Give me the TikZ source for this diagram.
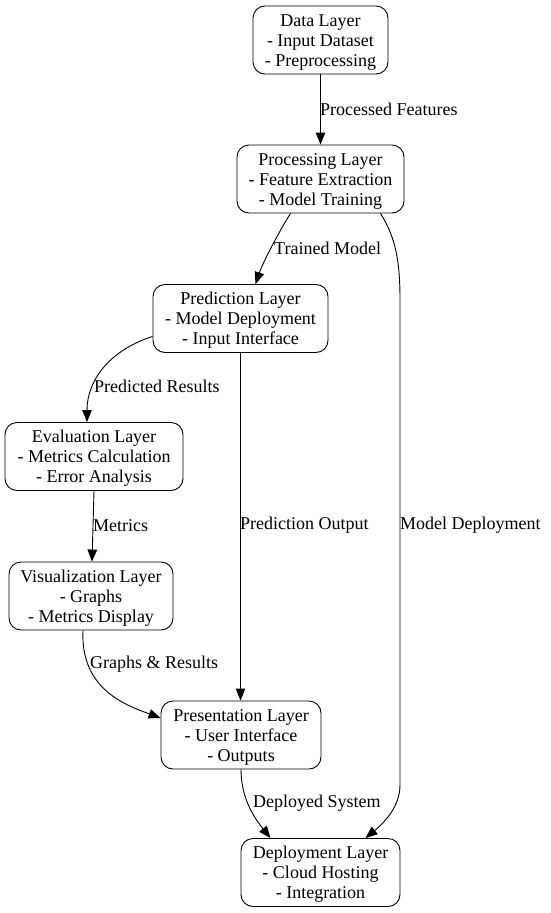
\documentclass[tikz,border=0pt]{standalone}
\usepackage{fontspec}
\setmainfont{Liberation Serif}
\usetikzlibrary{arrows.meta}
\newcommand\laytext[3]{\raisebox{-2pt}[\height][\depth]{\begin{tabular}{@{}c@{}}#1\\#2\\#3\end{tabular}}}
\begin{document}
\begin{tikzpicture}[x=1pt,y=-1pt,
  layer/.style={draw, rounded corners=12pt, line width=0.9pt, inner sep=0pt,
    font=\fontsize{18}{20}\selectfont, minimum height=68pt},
  lbl/.style={anchor=west, inner sep=0pt, font=\fontsize{18}{20}\selectfont},
  conn/.style={line width=0.9pt, -{Triangle[length=12pt,width=9.5pt]}}]
\useasboundingbox (0,0) rectangle (550,913);
\node[layer, minimum width=135pt] (data) at (320.5,40) {\laytext{Data Layer}{- Input Dataset}{- Preprocessing}};
\node[layer, minimum width=167pt] (proc) at (320.5,179) {\laytext{Processing Layer}{- Feature Extraction}{- Model Training}};
\node[layer, minimum width=175pt] (pred) at (240.5,318.5) {\laytext{Prediction Layer}{- Model Deployment}{- Input Interface}};
\node[layer, minimum width=178pt] (eval) at (94,456.5) {\laytext{Evaluation Layer}{- Metrics Calculation}{- Error Analysis}};
\node[layer, minimum width=164pt] (vis) at (91,596) {\laytext{Visualization Layer}{- Graphs}{- Metrics Display}};
\node[layer, minimum width=160pt] (pres) at (241,735) {\laytext{Presentation Layer}{- User Interface}{- Outputs}};
\node[layer, minimum width=159pt] (dep) at (320.5,872.5) {\laytext{Deployment Layer}{- Cloud Hosting}{- Integration}};

\draw[conn] (data.south) -- (proc.north);
\draw[conn] ([xshift=-30pt]proc.south) .. controls (280,230) and (263,262) .. ([xshift=15pt]pred.north);
\draw[conn] ([xshift=60pt]proc.south) .. controls (396,238) and (400,262) .. (400,300) -- (400,785) .. controls (400,806) and (385,822) .. ([xshift=45pt]dep.north);
\draw[conn] ([yshift=-18pt]pred.west) .. controls (110,350) and (87,380) .. ([xshift=-7pt]eval.north);
\draw[conn] (pred.south) -- (pred.south |- pres.north);
\draw[conn] (eval.south) -- ([xshift=1pt]vis.north);
\draw[conn] ([xshift=-8pt]vis.south) .. controls (80,690) and (128,706) .. ([yshift=17pt]pres.west);
\draw[conn] (pres.south) .. controls (241,800) and (256,820) .. ([xshift=-50pt]dep.north);

\node[lbl] (l1) at (320,109.5) {Processed Features};
\node[lbl] (l2) at (274,248.5) {Trained Model};
\node[lbl] (l3) at (400,525.5) {Model Deployment};
\node[lbl] (l4) at (94,386.5) {Predicted Results};
\node[lbl] (l5) at (240,525.5) {Prediction Output};
\node[lbl] (l6) at (93,525.5) {Metrics};
\node[lbl] (l7) at (90,664.5) {Graphs \& Results};
\node[lbl] (l8) at (253,803.5) {Deployed System};
\end{tikzpicture}
\end{document}
